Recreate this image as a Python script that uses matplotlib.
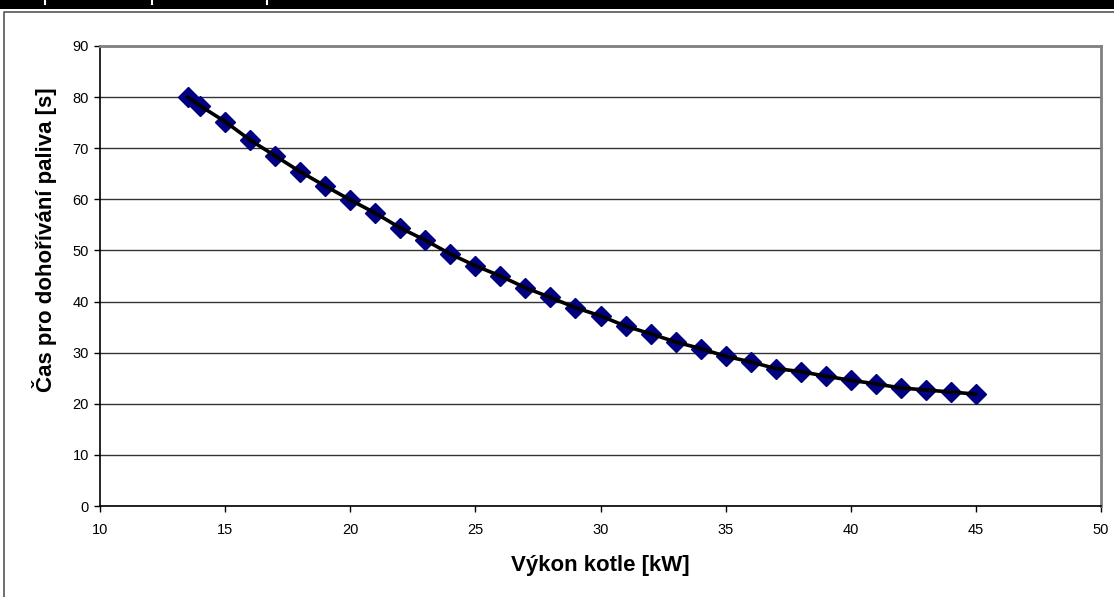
import matplotlib.pyplot as plt
from matplotlib.lines import Line2D
from matplotlib.patches import Rectangle

# Data
vykon = [13.5, 14, 15, 16, 17, 18, 19, 20, 21, 22, 23, 24, 25, 26, 27, 28, 29,
         30, 31, 32, 33, 34, 35, 36, 37, 38, 39, 40, 41, 42, 43, 44, 45]
cas = [80.0, 78.3, 75.2, 71.6, 68.5, 65.4, 62.6, 59.9, 57.3, 54.4, 52.0, 49.3,
       47.0, 45.0, 42.7, 40.8, 38.8, 37.2, 35.2, 33.7, 32.1, 30.8, 29.3, 28.2,
       26.9, 26.3, 25.4, 24.6, 23.9, 23.1, 22.7, 22.3, 21.9]

x_ticks = [10, 15, 20, 25, 30, 35, 40, 45, 50]
y_ticks = [0, 10, 20, 30, 40, 50, 60, 70, 80, 90]

plt.rcParams['font.family'] = ['Liberation Sans', 'DejaVu Sans']

fig = plt.figure(figsize=(11.14, 5.97), dpi=100)
ax = fig.add_axes([100 / 1114, 1 - 506 / 597, 1001 / 1114, 460 / 597])

# Points and smooth black line on top
ax.plot(vykon, cas, linestyle='none', marker='D', markersize=10,
        markerfacecolor='#000080', markeredgecolor='#000080', zorder=3)
ax.plot(vykon, cas, color='black', linewidth=2.6, zorder=4,
        solid_joinstyle='round', solid_capstyle='round')

ax.set_xlim(10, 50)
ax.set_ylim(0, 90)
ax.set_xticks(x_ticks)
ax.set_yticks(y_ticks)
ax.tick_params(direction='out', length=4, width=1, labelsize=10.5, colors='black', pad=4)
ax.tick_params(axis='x', pad=8)

ax.grid(axis='y', color='#333333', linewidth=1)
ax.set_axisbelow(True)

ax.spines['left'].set_color('black')
ax.spines['bottom'].set_color('black')
ax.spines['left'].set_linewidth(1.2)
ax.spines['bottom'].set_linewidth(1.2)
ax.spines['top'].set_color('#808080')
ax.spines['right'].set_color('#808080')
ax.spines['top'].set_linewidth(2)
ax.spines['right'].set_linewidth(2)

ax.set_xlabel('Výkon kotle [kW]', fontsize=16, fontweight='bold', labelpad=13)
ax.set_ylabel('Čas pro dohořívání paliva [s]', fontsize=16, fontweight='bold')
ax.yaxis.set_label_coords(-0.043, 0.578)

# Outer frame and black band at the top (scan artefacts of the document)
fig.patches.append(Rectangle((0, 1 - 9 / 597), 1, 9 / 597, transform=fig.transFigure,
                             facecolor='black', edgecolor='none'))
for xp in [45, 152, 267]:
    fig.lines.append(Line2D([xp / 1114, xp / 1114], [1 - 1 / 597, 1 - 4 / 597],
                            transform=fig.transFigure, color='white', linewidth=1.5))
fig.lines.append(Line2D([3.5 / 1114, 3.5 / 1114, 1], [0, 1 - 12 / 597, 1 - 12 / 597],
                        transform=fig.transFigure, color='#555555', linewidth=1.2))

fig.savefig('out.png', dpi=100)
